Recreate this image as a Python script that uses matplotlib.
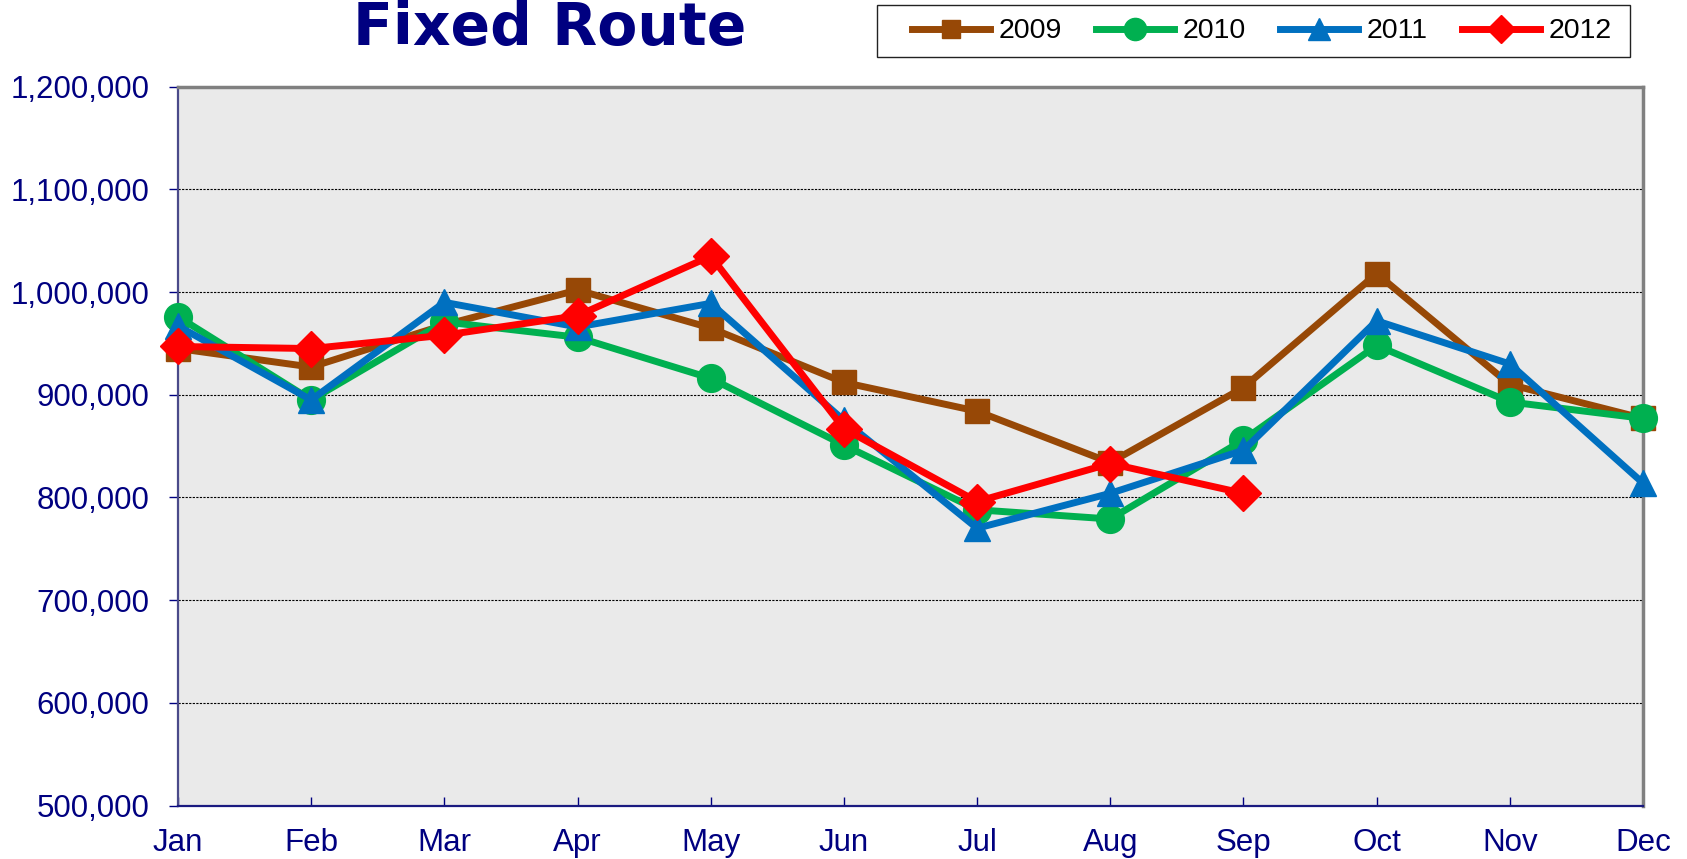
import matplotlib
matplotlib.use("Agg")
import matplotlib.pyplot as plt
from matplotlib.patches import Rectangle
from matplotlib.ticker import FuncFormatter, MultipleLocator

months = ["Jan", "Feb", "Mar", "Apr", "May", "Jun", "Jul", "Aug", "Sep", "Oct", "Nov", "Dec"]
y2009 = [945000, 927000, 968000, 1002000, 965000, 912000, 884000, 834000, 907000, 1018000, 910000, 877000]
y2010 = [976000, 895000, 971000, 956000, 916000, 851000, 788000, 779000, 856000, 948000, 893000, 877000]
y2011 = [967000, 895000, 990000, 966000, 989000, 875000, 770000, 804000, 846000, 972000, 930000, 814000]
y2012 = [947000, 945000, 958000, 977000, 1035000, 867000, 796000, 833000, 804000]

series = [
    ("2009", y2009, "#974806", "s", 17),
    ("2010", y2010, "#00B050", "o", 20),
    ("2011", y2011, "#0070C0", "^", 19),
    ("2012", y2012, "#FF0000", "D", 18),
]

W, H = 1687, 859
fig = plt.figure(figsize=(W / 100, H / 100), dpi=100)
left, right, top, bottom = 178, 1643, 86.7, 805.5
ax = fig.add_axes([left / W, 1 - bottom / H, (right - left) / W, (bottom - top) / H])
ax.set_facecolor("#eaeaea")

navy = "#000080"
handles = []
for name, vals, col, mk, ms in series:
    x = list(range(len(vals)))
    h, = ax.plot(x, vals, color=col, lw=5.0, marker=mk, markersize=ms,
                 markerfacecolor=col, markeredgecolor=col, label=name,
                 solid_joinstyle="miter", clip_on=False, zorder=3)
    handles.append(h)

ax.set_xlim(0, 11)
ax.set_ylim(500000, 1200000)
ax.set_xticks(range(12))
ax.set_xticklabels(months)
ax.yaxis.set_major_locator(MultipleLocator(100000))
ax.yaxis.set_major_formatter(FuncFormatter(lambda v, p: f"{int(v):,}"))
ax.yaxis.grid(True, linestyle=(0, (2, 1.2)), color="black", lw=0.8, zorder=1)
ax.set_axisbelow(True)

for lab in ax.get_xticklabels() + ax.get_yticklabels():
    lab.set_family("Liberation Sans")
ax.tick_params(axis="y", direction="out", length=6.5, width=1, color=navy,
               labelsize=22.5, labelcolor=navy, pad=14)
ax.tick_params(axis="x", direction="in", length=6.5, width=1, color=navy,
               labelsize=22.5, labelcolor=navy, pad=16)

ax.spines["left"].set_color("#4a4a8a")
ax.spines["left"].set_linewidth(1.6)
ax.spines["bottom"].set_color("#1a1a80")
ax.spines["bottom"].set_linewidth(1.6)
ax.spines["top"].set_color("#808080")
ax.spines["top"].set_linewidth(2.5)
ax.spines["right"].set_color("#808080")
ax.spines["right"].set_linewidth(2.5)

fig.text(550 / W, 1 - 45.5 / H, "Fixed Route", ha="center", va="baseline",
         fontsize=42, fontweight="bold", color=navy, family="DejaVu Sans")

# legend frame drawn as a figure patch
fig.patches.append(Rectangle((877 / W, 1 - 57 / H), (1630 - 877) / W, 52 / H,
                             transform=fig.transFigure, facecolor="white",
                             edgecolor="#222222", lw=1.0, zorder=1))
leg = fig.legend(handles=handles, ncol=4, loc="center left",
                 bbox_to_anchor=(912 / W, 1 - 31.5 / H),
                 borderaxespad=0, borderpad=0, frameon=False,
                 handlelength=2.74, handletextpad=0.3, columnspacing=1.2,
                 markerscale=0.8,
                 prop={"family": "Liberation Sans", "size": 20.5})
leg.set_zorder(5)

fig.savefig("out.png", dpi=100)
